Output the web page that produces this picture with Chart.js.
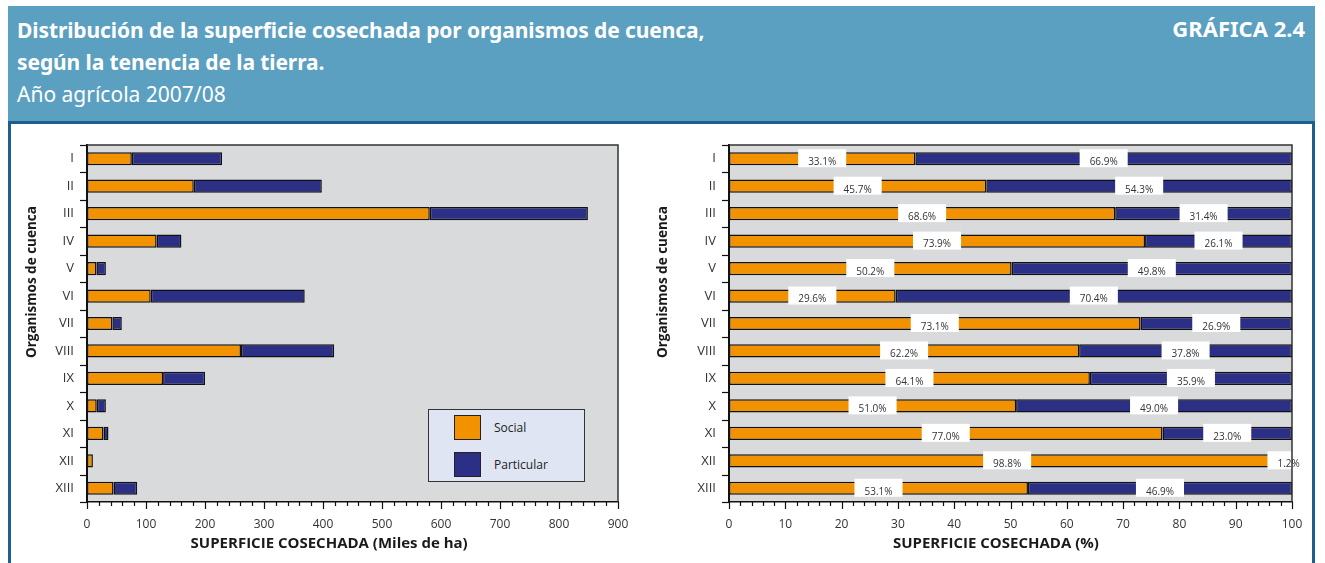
<!DOCTYPE html>
<html lang="es">
<head>
<meta charset="utf-8">
<title>Gráfica 2.4</title>
<script src="https://cdn.jsdelivr.net/npm/chart.js@4.4.1/dist/chart.umd.min.js"></script>
<style>
    html, body { margin: 0; padding: 0; background: #fff; }
    body { width: 1325px; height: 563px; position: relative; overflow: hidden; font-family: "Noto Sans", "Open Sans", sans-serif; }
    .header { position: absolute; left: 8px; top: 6px; width: 1307px; height: 115px; background: #5b9fc1; color: #fff; }
    .header .lines { position: absolute; left: 9px; top: 8px; }
    .header .line { font-size: 21px; line-height: 32px; white-space: nowrap; }
    .header .bold { font-weight: bold; letter-spacing: -0.1px; }
    .header .tag { position: absolute; right: 10px; top: 6px; font-size: 22px; line-height: 32px; font-weight: bold; }
    .frame { position: absolute; left: 8px; top: 121px; width: 1301px; height: 460px; border: 3px solid #1d5f8d; border-bottom: none; }
    canvas { position: absolute; top: 122px; }
    #leftChart { left: 0; }
    #rightChart { left: 631px; }
    .legend { position: absolute; left: 428px; top: 409px; width: 157px; height: 73px; box-sizing: border-box;
              border: 1.5px solid #333; background: #dfe5f2; padding: 5px 0 0 25px; font-family: "Open Sans", sans-serif; }
    .legend-item { display: flex; align-items: center; height: 25px; margin-bottom: 12px; }
    .legend-color { width: 27px; height: 25px; box-sizing: border-box; border: 1.5px solid #222; }
    .legend-item span { margin-left: 13px; font-size: 12px; color: #222; }
</style>
</head>
<body>
<div class="header">
    <div class="lines">
        <div class="line bold">Distribución de la superficie cosechada por organismos de cuenca,</div>
        <div class="line bold">según la tenencia de la tierra.</div>
        <div class="line">Año agrícola 2007/08</div>
    </div>
    <div class="tag">GRÁFICA 2.4</div>
</div>
<div class="frame"></div>
<canvas id="leftChart" width="660" height="441"></canvas>
<canvas id="rightChart" width="694" height="441"></canvas>
<div class="legend" id="leftLegend"></div>

<script>
// Categories (organismos de cuenca)
const basins = ['I', 'II', 'III', 'IV', 'V', 'VI', 'VII', 'VIII', 'IX', 'X', 'XI', 'XII', 'XIII'];
const seriesNames = ['Social', 'Particular'];

// Superficie cosechada, miles de ha
const socialHa = [76, 181, 581, 118, 16, 108, 43, 261, 129, 16.5, 28, 10, 45];
const particularHa = [153, 217, 268, 42, 16, 261, 16, 158, 71, 15.5, 8.4, 0.12, 40];

// Superficie cosechada, % (labels of the right chart)
const socialPct = [33.1, 45.7, 68.6, 73.9, 50.2, 29.6, 73.1, 62.2, 64.1, 51.0, 77.0, 98.8, 53.1];
const particularPct = [66.9, 54.3, 31.4, 26.1, 49.8, 70.4, 26.9, 37.8, 35.9, 49.0, 23.0, 1.2, 46.9];

// Axis ticks
const haTicks = [0, 100, 200, 300, 400, 500, 600, 700, 800, 900];
const pctTicks = [0, 10, 20, 30, 40, 50, 60, 70, 80, 90, 100];

const ORANGE = '#f39200';
const NAVY = '#2b2f86';
const PLOT_BG = '#d9dadc';
const FONT = '"Open Sans", sans-serif';

// Gray plot background, frame, tick marks and axis titles
const plotFrame = {
    id: 'plotFrame',
    beforeDraw(chart) {
        const { ctx, chartArea: a } = chart;
        ctx.save();
        ctx.fillStyle = PLOT_BG;
        ctx.fillRect(a.left, a.top, a.right - a.left, a.bottom - a.top);
        ctx.restore();
    },
    afterDraw(chart, args, opts) {
        const { ctx, chartArea: a, scales: { x, y } } = chart;
        ctx.save();
        ctx.strokeStyle = '#333';
        ctx.lineWidth = 1.5;
        ctx.beginPath();
        ctx.moveTo(a.left, a.top);
        ctx.lineTo(a.right, a.top);
        ctx.lineTo(a.right, a.bottom);
        ctx.stroke();

        // x tick marks: majors and minors
        ctx.strokeStyle = '#111';
        ctx.lineWidth = 1.2;
        for (let v = x.min; v <= x.max + 1e-9; v += opts.minorStep) {
            const px = Math.round(x.getPixelForValue(v)) + 0.5;
            const r = v / opts.majorStep;
            const major = Math.abs(r - Math.round(r)) < 1e-6;
            ctx.beginPath();
            ctx.moveTo(px, a.bottom);
            ctx.lineTo(px, a.bottom + (major ? 7 : 4));
            ctx.stroke();
        }
        // y tick marks at category boundaries
        for (let i = 0; i <= y.getLabels().length; i++) {
            const py = Math.round(y.getPixelForValue(i - 0.5)) + 0.5;
            ctx.beginPath();
            ctx.moveTo(a.left - 7, py);
            ctx.lineTo(a.left, py);
            ctx.stroke();
        }

        // axis titles
        ctx.fillStyle = '#1a1a1a';
        ctx.textAlign = 'center';
        ctx.textBaseline = 'middle';
        ctx.font = 'bold 15px ' + FONT;
        ctx.fillText(opts.xTitle, a.left + opts.xAt * (a.right - a.left), a.bottom + 42);
        ctx.font = 'bold 13.5px ' + FONT;
        ctx.translate(32, a.top + opts.yAt * (a.bottom - a.top));
        ctx.rotate(-Math.PI / 2);
        ctx.fillText(opts.yTitle, 0, 0);
        ctx.restore();
    }
};

// White boxed percentage labels on the right chart
const pctLabels = {
    id: 'pctLabels',
    afterDatasetsDraw(chart) {
        const { ctx } = chart;
        ctx.save();
        ctx.font = '10px ' + FONT;
        ctx.textAlign = 'center';
        ctx.textBaseline = 'middle';
        chart.data.datasets.forEach((ds, di) => {
            chart.getDatasetMeta(di).data.forEach((bar, i) => {
                const txt = ds.data[i].toFixed(1) + '%';
                const cx = (bar.x + bar.base) / 2;
                const w = ctx.measureText(txt).width + 20;
                ctx.fillStyle = '#fff';
                ctx.fillRect(cx - w / 2, bar.y - 9.5, w, 18);
                ctx.fillStyle = '#333';
                ctx.fillText(txt, cx, bar.y + 3.5);
            });
        });
        ctx.restore();
    }
};

function makeOptions(ticks, minorStep, yWidth, rightPad, xAt) {
    return {
        responsive: false,
        animation: false,
        indexAxis: 'y',
        layout: { padding: { top: 23, right: rightPad, bottom: 0, left: 0 } },
        plugins: {
            legend: { display: false },
            tooltip: { enabled: false },
            plotFrame: {
                minorStep: minorStep,
                majorStep: ticks[1] - ticks[0],
                xTitle: '',
                xAt: xAt,
                yTitle: 'Organismos de cuenca',
                yAt: 0.384
            }
        },
        scales: {
            x: {
                stacked: true,
                min: ticks[0],
                max: ticks[ticks.length - 1],
                afterFit: s => { s.height = 61; },
                afterBuildTicks: s => { s.ticks = ticks.map(v => ({ value: v })); },
                grid: { display: false, drawTicks: false },
                border: { display: true, color: '#111', width: 1.5 },
                ticks: { padding: 15, color: '#333', font: { family: FONT, size: 12 }, maxRotation: 0 }
            },
            y: {
                stacked: true,
                afterFit: s => { s.width = yWidth; },
                grid: { display: false, drawTicks: false },
                border: { display: true, color: '#111', width: 2 },
                ticks: { padding: 13, color: '#333', font: { family: FONT, size: 13 } }
            }
        }
    };
}

function makeDatasets(a, b) {
    return [a, b].map((values, k) => ({
        label: seriesNames[k],
        data: values,
        backgroundColor: k === 0 ? ORANGE : NAVY,
        borderColor: '#111',
        borderWidth: 1.5,
        borderSkipped: false,
        categoryPercentage: 1,
        barPercentage: 0.48
    }));
}

function createLegend(containerId, datasets) {
    const container = document.getElementById(containerId);
    container.innerHTML = datasets.map(ds => `
        <div class="legend-item">
            <div class="legend-color" style="background-color: ${ds.backgroundColor}"></div>
            <span>${ds.label}</span>
        </div>`).join('');
}

const leftOpts = makeOptions(haTicks, 20, 87, 42, 0.456);
leftOpts.plugins.plotFrame.xTitle = 'SUPERFICIE COSECHADA (Miles de ha)';
const leftData = { labels: basins, datasets: makeDatasets(socialHa, particularHa) };
new Chart(document.getElementById('leftChart'), {
    type: 'bar',
    data: leftData,
    options: leftOpts,
    plugins: [plotFrame]
});

const rightOpts = makeOptions(pctTicks, 2, 98, 33, 0.474);
rightOpts.plugins.plotFrame.xTitle = 'SUPERFICIE COSECHADA (%)';
new Chart(document.getElementById('rightChart'), {
    type: 'bar',
    data: { labels: basins, datasets: makeDatasets(socialPct, particularPct) },
    options: rightOpts,
    plugins: [plotFrame, pctLabels]
});

createLegend('leftLegend', leftData.datasets);
</script>
</body>
</html>
